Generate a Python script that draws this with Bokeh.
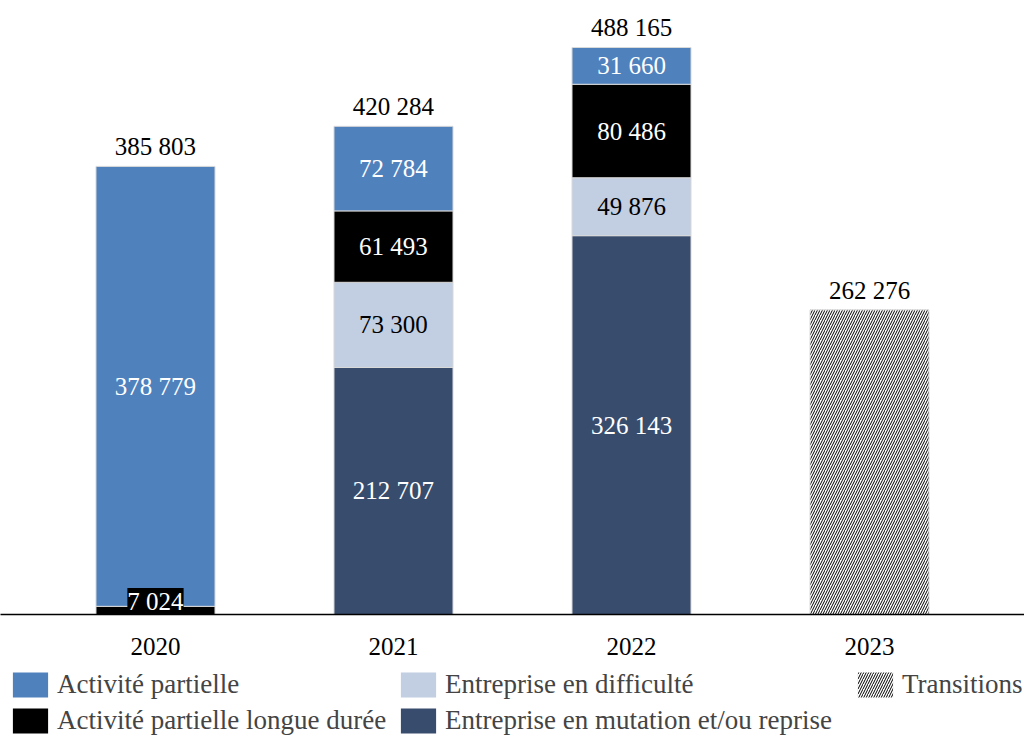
from bokeh.plotting import figure
from bokeh.layouts import column
from bokeh.models import (ColumnDataSource, FactorRange, Range1d, LabelSet,
                          Legend, LegendItem)
from bokeh.embed import file_html
from bokeh.resources import INLINE

years = ["2020", "2021", "2022", "2023"]
activite_partielle = [378779, 72784, 31660, 0]
apld = [7024, 61493, 80486, 0]
difficulte = [0, 73300, 49876, 0]
mutation = [0, 212707, 326143, 0]
transitions = [0, 0, 0, 262276]
totals = [385803, 420284, 488165, 262276]

C_AP = "#4f81bd"
C_APLD = "#000000"
C_DIFF = "#c2cee1"
C_MUT = "#384d6d"
FONT = "Liberation Serif"
FS = "25px"
FS_LEG = "27px"

def fmt(v):
    return f"{v:,}".replace(",", " ")

source = ColumnDataSource(dict(years=years, ap=activite_partielle, apld=apld,
                               diff=difficulte, mut=mutation, trans=transitions))

p = figure(x_range=FactorRange(*years, range_padding=0.075625,
                               range_padding_units="percent"),
           y_range=Range1d(0, 528630),
           width=1024, height=668, output_backend="svg", toolbar_location=None,
           min_border_left=0, min_border_right=0, min_border_top=0,
           min_border_bottom=54)
p.outline_line_color = None
p.xgrid.visible = False
p.ygrid.visible = False
p.yaxis.visible = False
p.background_fill_color = "white"

stack = ["mut", "diff", "apld", "ap"]
colors = [C_MUT, C_DIFF, C_APLD, C_AP]
rs = p.vbar_stack(stack, x="years", width=0.5, color=colors, source=source,
                  line_color="#d9d9d9", line_width=1)
rt = p.vbar(x="years", top="trans", width=0.5, source=source,
            fill_color="white", line_color="#d9d9d9", line_width=1,
            hatch_pattern="right_diagonal_line", hatch_color="black",
            hatch_scale=5, hatch_weight=1.0)

# segment labels
lx, ly, lt, lc = [], [], [], []
small_x, small_y, small_t = [], [], []
series = [(mutation, "white"), (difficulte, "black"), (apld, "white"),
          (activite_partielle, "white")]
for i, yr in enumerate(years):
    base = 0
    for vals, col in series:
        v = vals[i]
        if v:
            if v < 20000:
                small_x.append(yr); small_y.append(base + v / 2); small_t.append(fmt(v))
            else:
                lx.append(yr); ly.append(base + v / 2); lt.append(fmt(v)); lc.append(col)
        base += v

seg = ColumnDataSource(dict(x=lx, y=ly, t=lt, c=lc))
p.add_layout(LabelSet(x="x", y="y", text="t", source=seg, text_color="c",
                      text_align="center", text_baseline="middle",
                      text_font=FONT, text_font_size=FS))
sm = ColumnDataSource(dict(x=small_x, y=small_y, t=small_t))
p.add_layout(LabelSet(x="x", y="y", text="t", source=sm, text_color="white",
                      text_align="center", text_baseline="middle", y_offset=9,
                      text_font=FONT, text_font_size=FS,
                      background_fill_color="black"))

tot = ColumnDataSource(dict(x=years, y=totals, t=[fmt(v) for v in totals]))
p.add_layout(LabelSet(x="x", y="y", text="t", source=tot, text_color="black",
                      text_align="center", text_baseline="bottom", y_offset=6,
                      text_font=FONT, text_font_size=FS))

ax = p.xaxis[0]
ax.axis_line_color = "black"
ax.axis_line_width = 1.5
ax.major_tick_line_color = None
ax.minor_tick_line_color = None
ax.major_tick_out = 0
ax.major_tick_in = 0
ax.major_label_standoff = 23
ax.major_label_text_font = FONT
ax.major_label_text_font_size = FS
ax.major_label_text_color = "black"

# legend strip
p2 = figure(width=1024, height=70, x_range=Range1d(0, 1), y_range=Range1d(0, 1),
            x_axis_type=None, y_axis_type=None, output_backend="svg",
            toolbar_location=None, min_border=0)
p2.outline_line_color = None
hid = dict(x=[5], top=[1], width=0.5)
d_ap = p2.vbar(**hid, fill_color=C_AP, line_color=None)
d_apld = p2.vbar(**hid, fill_color=C_APLD, line_color=None)
d_diff = p2.vbar(**hid, fill_color=C_DIFF, line_color=None)
d_mut = p2.vbar(**hid, fill_color=C_MUT, line_color=None)
d_tr = p2.vbar(**hid, fill_color="white", line_color=None,
               hatch_pattern="right_diagonal_line", hatch_color="black",
               hatch_scale=5, hatch_weight=1.0)

def mk_legend(items, loc):
    return Legend(items=items, orientation="vertical", location=loc,
                  border_line_color=None, background_fill_alpha=0,
                  label_text_font=FONT, label_text_font_size=FS_LEG,
                  glyph_width=44, glyph_height=31, label_standoff=5,
                  spacing=5, padding=0, margin=0, label_height=25)

p2.add_layout(mk_legend([LegendItem(label="Activité partielle", renderers=[d_ap]),
                         LegendItem(label="Activité partielle longue durée", renderers=[d_apld])],
                        (8, 2)))
p2.add_layout(mk_legend([LegendItem(label="Entreprise en difficulté", renderers=[d_diff]),
                         LegendItem(label="Entreprise en mutation et/ou reprise", renderers=[d_mut])],
                        (396, 2)))
p2.add_layout(mk_legend([LegendItem(label="Transitions", renderers=[d_tr])],
                        (853, 38)))

layout = column(p, p2, spacing=0)
open("out.html", "w").write(file_html(layout, INLINE))
